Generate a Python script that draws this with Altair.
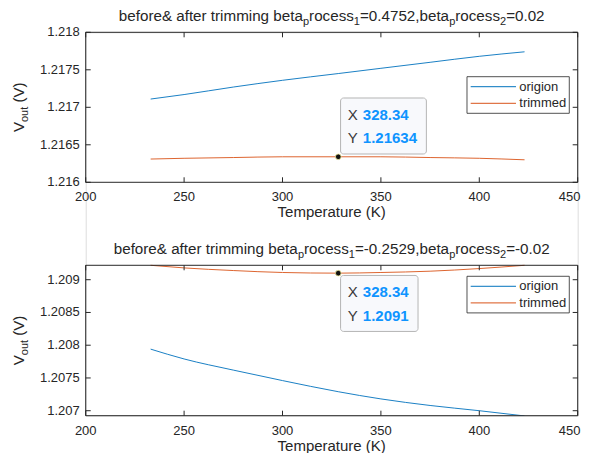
import altair as alt
import pandas as pd

FONT = "Liberation Sans"
INK = "#262626"
BLUE_TXT = "#0f94ff"

# ---------------- data ----------------
temps = [233, 250, 275, 300, 328.34, 350, 375, 400, 423]
top_origion = [1.21711, 1.21717, 1.21727, 1.21736, 1.21745, 1.21752, 1.21760, 1.21768, 1.21774]
top_trimmed = [1.21631, 1.21632, 1.21633, 1.21634, 1.21634, 1.21634, 1.21633, 1.21632, 1.21630]
bot_origion = [1.20794, 1.20779, 1.20762, 1.20746, 1.20729, 1.20718, 1.20708, 1.20700, 1.20692]
bot_trimmed = [1.20922, 1.20918, 1.20914, 1.20911, 1.20910, 1.20911, 1.20913, 1.20917, 1.20922]

series_names = ["origion", "trimmed"]
series_colors = ["#0072BD", "#D95319"]

x_ticks = [200, 250, 300, 350, 400, 450]
top_y_ticks = [1.216, 1.2165, 1.217, 1.2175, 1.218]
bot_y_ticks = [1.207, 1.2075, 1.208, 1.2085, 1.209]
x_domain = [200, 450]
top_y_domain = [1.216, 1.218]
bot_y_domain = [1.206924, 1.20922]

tip_T = [328.34, 328.34]
tip_V = [1.21634, 1.2091]

top_title = [("before& after trimming beta", 0), ("p", 1), ("rocess", 0), ("1", 1),
             ("=0.4752,beta", 0), ("p", 1), ("rocess", 0), ("2", 1), ("=0.02", 0)]
bot_title = [("before& after trimming beta", 0), ("p", 1), ("rocess", 0), ("1", 1),
             ("=-0.2529,beta", 0), ("p", 1), ("rocess", 0), ("2", 1), ("=-0.02", 0)]
y_title = [("V", 0), ("out", 1), (" ", 0), ("(V)", 0)]
x_title = "Temperature (K)"

# ---------------- layout (pixels) ----------------
W = 492
TOP_PANEL = (0.0, 150.0)      # y of top edge, bottom edge
BOT_PANEL = (233.0, 383.4)
VIEW_H = BOT_PANEL[1]
PAD_RIGHT = 3.3

# Arial / Liberation Sans advance widths (per 1000 em)
AW = {" ": 278, "&": 667, "(": 333, ")": 333, ",": 278, "-": 333, ".": 278,
      "=": 584, "K": 667, "T": 611, "V": 667, "X": 667, "Y": 667,
      "a": 556, "b": 556, "c": 500, "d": 556, "e": 556, "f": 278, "g": 556, "h": 556,
      "i": 222, "j": 222, "k": 500, "l": 222, "m": 833, "n": 556, "o": 556, "p": 556,
      "q": 556, "r": 333, "s": 500, "t": 278, "u": 556, "v": 500, "w": 722, "x": 500,
      "y": 500, "z": 500}
for d in "0123456789":
    AW[d] = 556


def tw(s, size):
    return sum(AW.get(c, 556) for c in s) * size / 1000.0


ONE = pd.DataFrame({"a": [0]})
MAIN, SUB, SUBDY = 15, 11, 4.0


def rich_h(segs, cx, base_y, main=MAIN):
    total = sum(tw(t, SUB if s else main) for t, s in segs)
    x = cx - total / 2
    out = []
    for t, s in segs:
        size = SUB if s else main
        if t.strip():
            out.append(alt.Chart(ONE).mark_text(text=t, align="left", baseline="alphabetic",
                                                font=FONT, fontSize=size, color=INK).encode(
                x=alt.value(x), y=alt.value(base_y + (SUBDY if s else 0))))
        x += tw(t, size)
    return out


def rich_v(segs, base_x, cy):
    total = sum(tw(t, SUB if s else MAIN) for t, s in segs)
    y = cy + total / 2
    out = []
    for t, s in segs:
        size = SUB if s else MAIN
        if t.strip():
            out.append(alt.Chart(ONE).mark_text(text=t, align="left", baseline="alphabetic",
                                                angle=270, font=FONT, fontSize=size,
                                                color=INK).encode(
                x=alt.value(base_x + (SUBDY if s else 0)), y=alt.value(y)))
        y -= tw(t, size)
    return out


xs = alt.Scale(domain=x_domain, range=[0, W], nice=False, zero=False)
X = alt.X("T:Q", scale=xs, axis=None)


def panel(orig, trim, ydom, yticks, tT, tV, above, title_segs, leg_off, geom):
    y0, y1 = geom
    ph = y1 - y0
    n = len(temps)
    df = pd.DataFrame({"T": temps + temps, "V": orig + trim,
                       "series": [series_names[0]] * n + [series_names[1]] * n})
    ys = alt.Scale(domain=ydom, range=[y1, y0], nice=False, zero=False)
    Y = alt.Y("V:Q", scale=ys, axis=None)
    layers = []

    layers.append(alt.Chart(df).mark_line(strokeWidth=0.9, clip=True,
                                          interpolate="monotone").encode(
        x=X, y=Y,
        color=alt.Color("series:N", scale=alt.Scale(domain=series_names, range=series_colors),
                        legend=None),
    ))

    # axes box
    layers.append(alt.Chart(ONE).mark_rect(fillOpacity=0, stroke=INK, strokeWidth=1).encode(
        x=alt.value(0), x2=alt.value(W), y=alt.value(y0), y2=alt.value(y1)))

    # inward ticks on all four sides + tick labels
    xt = pd.DataFrame({"T": x_ticks})
    yt = pd.DataFrame({"V": yticks})
    tk = dict(color=INK, strokeWidth=1)
    layers.append(alt.Chart(xt).mark_rule(**tk).encode(x=X, y=alt.value(y1), y2=alt.value(y1 - 5)))
    layers.append(alt.Chart(xt).mark_rule(**tk).encode(x=X, y=alt.value(y0), y2=alt.value(y0 + 5)))
    layers.append(alt.Chart(yt).mark_rule(**tk).encode(y=Y, x=alt.value(0), x2=alt.value(5)))
    layers.append(alt.Chart(yt).mark_rule(**tk).encode(y=Y, x=alt.value(W - 5), x2=alt.value(W)))
    xt_in = pd.DataFrame({"T": x_ticks[:-1]})
    xt_last = pd.DataFrame({"T": x_ticks[-1:]})
    layers.append(alt.Chart(xt_in).mark_text(align="center", baseline="top", font=FONT,
                                             fontSize=13, color=INK).encode(
        x=X, y=alt.value(y1 + 9), text=alt.Text("T:Q", format="d")))
    # last label kept whole inside the page edge
    layers.append(alt.Chart(xt_last).mark_text(align="right", baseline="top", font=FONT,
                                               fontSize=13, color=INK, dx=PAD_RIGHT - 0.5).encode(
        x=X, y=alt.value(y1 + 9), text=alt.Text("T:Q", format="d")))
    layers.append(alt.Chart(yt).mark_text(align="right", baseline="middle", font=FONT, fontSize=13,
                                          color=INK).encode(
        y=Y, x=alt.value(-6), text=alt.Text("V:Q", format=".4~f")))

    # data tip
    tip = pd.DataFrame({"T": [tT], "V": [tV]})
    vstr = f"{tV:.6g}"
    tstr = f"{tT:.2f}"
    val_w = max(tw(vstr, 15), tw(tstr, 15))
    bw = 22.3 + val_w + 9.3
    bh = 56
    bl = 2.3
    btop = -2.8 - bh if above else 2.3
    pos = dict(x=X, y=Y)
    layers.append(alt.Chart(tip).mark_rect(width=bw, height=bh, xOffset=bl + bw / 2,
                                           yOffset=btop + bh / 2, fill="#f8f9fc",
                                           stroke="#b5b5b5", strokeWidth=1,
                                           cornerRadius=3).encode(**pos))
    layers.append(alt.Chart(tip).mark_circle(size=32, color="#111111", stroke="#f3eea0",
                                             strokeWidth=0.8, opacity=1).encode(**pos))
    lab = dict(align="left", baseline="alphabetic", font=FONT, fontSize=15)
    layers.append(alt.Chart(tip).mark_text(text="X", dx=9.6, dy=btop + 22, color="#3a3a3a",
                                           **lab).encode(**pos))
    layers.append(alt.Chart(tip).mark_text(text="Y", dx=9.6, dy=btop + 45.5, color="#3a3a3a",
                                           **lab).encode(**pos))
    layers.append(alt.Chart(tip).mark_text(dx=24.6, dy=btop + 22, color=BLUE_TXT,
                                           fontWeight="bold", **lab).encode(
        text=alt.Text("T:Q", format=".2f"), **pos))
    layers.append(alt.Chart(tip).mark_text(dx=24.6, dy=btop + 45.5, color=BLUE_TXT,
                                           fontWeight="bold", **lab).encode(
        text=alt.Text("V:Q", format=".6~g"), **pos))

    # legend
    lx0, lx1 = 381.3, 483.6
    lh = 36.6
    lt = y0 + leg_off
    layers.append(alt.Chart(ONE).mark_rect(fill="white", stroke=INK, strokeWidth=0.8).encode(
        x=alt.value(lx0), x2=alt.value(lx1), y=alt.value(lt), y2=alt.value(lt + lh)))
    for i, (name, col) in enumerate(zip(series_names, series_colors)):
        ly = lt + 10 + i * 16.6
        layers.append(alt.Chart(ONE).mark_rule(color=col, strokeWidth=1).encode(
            x=alt.value(385), x2=alt.value(430.3), y=alt.value(ly)))
        layers.append(alt.Chart(ONE).mark_text(text=name, align="left", baseline="middle",
                                               font=FONT, fontSize=13, color=INK).encode(
            x=alt.value(433.6), y=alt.value(ly)))

    # titles
    layers += rich_h(title_segs, W / 2, y0 - 11.5, main=15.2)
    layers += rich_v(y_title, -61.5, y0 + ph / 2)
    layers.append(alt.Chart(ONE).mark_text(text=x_title, align="center", baseline="alphabetic",
                                           font=FONT, fontSize=15, color=INK).encode(
        x=alt.value(W / 2), y=alt.value(y1 + 35)))
    return layers


layers = []
layers += panel(top_origion, top_trimmed, top_y_domain, top_y_ticks, tip_T[0], tip_V[0], True,
                top_title, 44.4, TOP_PANEL)
layers += panel(bot_origion, bot_trimmed, bot_y_domain, bot_y_ticks, tip_T[1], tip_V[1], False,
                bot_title, 11.0, BOT_PANEL)

chart = alt.layer(*layers).resolve_scale(y="independent").properties(
    width=W, height=VIEW_H,
    autosize=alt.AutoSizeParams(type="none"),
    padding={"left": 77.7, "top": 24.3, "right": PAD_RIGHT, "bottom": 37},
    background="white",
).configure_view(strokeWidth=0).configure(font=FONT)

chart.save("out.html", embed_options={"renderer": "svg", "actions": False})
